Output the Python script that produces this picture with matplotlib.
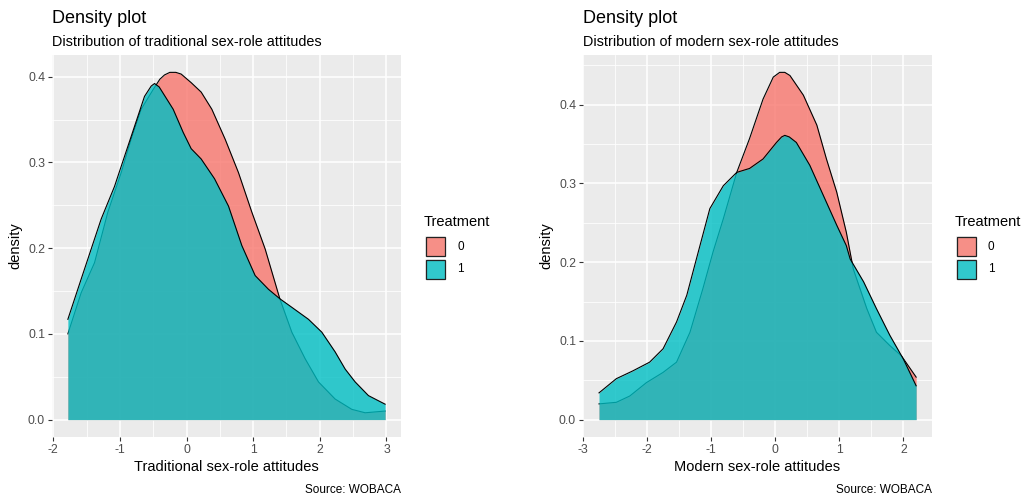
import matplotlib
matplotlib.use("Agg")
import matplotlib.pyplot as plt
from matplotlib.patches import Rectangle
from matplotlib.ticker import MultipleLocator

plt.rcParams["font.family"] = ["Liberation Sans", "DejaVu Sans"]
plt.rcParams["axes.unicode_minus"] = False

W, H = 1023, 497

# Traditional sex-role attitudes, Treatment 0 / 1 (density curves)
trad_x0 = [-1.78, -1.58, -1.38, -1.18, -0.98, -0.83, -0.68, -0.50, -0.40, -0.33, -0.25, -0.16,
           -0.08, 0.07, 0.22, 0.38, 0.58, 0.78, 0.98, 1.18, 1.40, 1.58, 1.78, 1.98, 2.23, 2.48,
           2.68, 2.98]
trad_y0 = [0.100, 0.148, 0.183, 0.242, 0.288, 0.327, 0.362, 0.385, 0.397, 0.402, 0.405, 0.405,
           0.403, 0.393, 0.382, 0.362, 0.327, 0.288, 0.242, 0.199, 0.141, 0.102, 0.071, 0.044,
           0.024, 0.012, 0.008, 0.010]
trad_x1 = [-1.78, -1.58, -1.43, -1.28, -1.08, -0.93, -0.78, -0.63, -0.53, -0.48, -0.41, -0.20,
           -0.05, 0.07, 0.22, 0.42, 0.63, 0.83, 1.03, 1.23, 1.40, 1.58, 1.83, 2.03, 2.23, 2.38,
           2.53, 2.73, 2.98]
trad_y1 = [0.117, 0.164, 0.199, 0.234, 0.272, 0.307, 0.342, 0.377, 0.389, 0.392, 0.388, 0.362,
           0.335, 0.316, 0.304, 0.281, 0.249, 0.203, 0.168, 0.152, 0.141, 0.131, 0.117, 0.102,
           0.079, 0.059, 0.044, 0.028, 0.018]

# Modern sex-role attitudes, Treatment 0 / 1
mod_x0 = [-2.75, -2.48, -2.27, -2.01, -1.75, -1.54, -1.33, -1.13, -0.97, -0.81, -0.60, -0.40,
          -0.19, -0.03, 0.07, 0.15, 0.23, 0.44, 0.65, 0.80, 0.96, 1.11, 1.22, 1.43, 1.58, 1.79,
          1.97, 2.20]
mod_y0 = [0.020, 0.022, 0.030, 0.047, 0.060, 0.073, 0.111, 0.166, 0.213, 0.255, 0.314, 0.357,
          0.407, 0.435, 0.441, 0.441, 0.437, 0.412, 0.374, 0.331, 0.289, 0.238, 0.191, 0.141,
          0.111, 0.094, 0.081, 0.054]
mod_x1 = [-2.75, -2.48, -2.22, -1.96, -1.75, -1.54, -1.38, -1.23, -1.02, -0.81, -0.60, -0.40,
          -0.19, 0.02, 0.10, 0.15, 0.22, 0.33, 0.54, 0.75, 0.96, 1.11, 1.17, 1.38, 1.58, 1.79,
          2.00, 2.20]
mod_y1 = [0.034, 0.052, 0.062, 0.073, 0.090, 0.124, 0.158, 0.204, 0.268, 0.297, 0.314, 0.319,
          0.331, 0.352, 0.359, 0.361, 0.359, 0.352, 0.323, 0.285, 0.247, 0.221, 0.204, 0.175,
          0.141, 0.107, 0.077, 0.043]

groups = ["0", "1"]
colors = ["#F8766D", "#00BFC4"]

panels = [
    dict(x0=trad_x0, y0=trad_y0, x1=trad_x1, y1=trad_y1, left=52,
         subtitle="Distribution of traditional sex-role attitudes",
         xlabel="Traditional sex-role attitudes", xticks=[-2, -1, 0, 1, 2, 3]),
    dict(x0=mod_x0, y0=mod_y0, x1=mod_x1, y1=mod_y1, left=583,
         subtitle="Distribution of modern sex-role attitudes",
         xlabel="Modern sex-role attitudes", xticks=[-3, -2, -1, 0, 1, 2]),
]

fig = plt.figure(figsize=(W / 100, H / 100), dpi=100)


def fx(px):
    return px / W


def fy(py):
    return 1 - py / H


for p in panels:
    L, R, T, B = p["left"], p["left"] + 349, 55, 437
    ax = fig.add_axes([fx(L), fy(B), (R - L) / W, (B - T) / H])
    ax.set_facecolor("#EBEBEB")
    for s in ax.spines.values():
        s.set_visible(False)

    # group 0 first, group 1 on top (its fill dims the outline underneath)
    z = 2
    for xs, ys, c in [(p["x0"], p["y0"], colors[0]), (p["x1"], p["y1"], colors[1])]:
        ax.fill_between(xs, ys, 0, color=c, alpha=0.8, lw=0, zorder=z)
        ax.plot(xs, ys, color="black", lw=0.8, zorder=z + 1)
        z += 2

    xmin = min(p["x0"][0], p["x1"][0]); xmax = max(p["x0"][-1], p["x1"][-1])
    ymax = max(max(p["y0"]), max(p["y1"]))
    ax.set_xlim(xmin - 0.05 * (xmax - xmin), xmax + 0.05 * (xmax - xmin))
    ax.set_ylim(-0.05 * ymax, 1.05 * ymax)

    ax.set_xticks(p["xticks"])
    ax.set_yticks([0.0, 0.1, 0.2, 0.3, 0.4])
    ax.set_yticklabels(["0.0", "0.1", "0.2", "0.3", "0.4"])
    ax.xaxis.set_minor_locator(MultipleLocator(0.5))
    ax.yaxis.set_minor_locator(MultipleLocator(0.05))
    ax.grid(True, which="major", color="white", lw=1.1, zorder=0)
    ax.grid(True, which="minor", color="white", lw=0.55, zorder=0)
    ax.set_axisbelow(True)
    ax.tick_params(which="major", length=3, width=0.8, color="#333333",
                   labelsize=8.8, labelcolor="#4D4D4D", pad=2)
    ax.tick_params(which="minor", length=0)

    ax.set_xlabel(p["xlabel"], fontsize=10.5, color="black", labelpad=3)
    ax.set_ylabel("density", fontsize=10.5, color="black", labelpad=4)

    fig.text(fx(L), fy(23), "Density plot", fontsize=13, va="baseline", ha="left")
    fig.text(fx(L), fy(45.5), p["subtitle"], fontsize=10.4, va="baseline", ha="left")
    fig.text(fx(R), fy(493), "Source: WOBACA", fontsize=8.5, va="baseline", ha="right")

    # legend
    lx = R + 23
    fig.text(fx(lx), fy(226.5), "Treatment", fontsize=10.5, va="baseline", ha="left")
    for i, (g, c) in enumerate(zip(groups, colors)):
        top = 236 + i * 23
        fig.add_artist(Rectangle((fx(lx + 1), fy(top + 21)), 21 / W, 21 / H,
                                 transform=fig.transFigure, facecolor="#F2F2F2",
                                 edgecolor="none"))
        fig.add_artist(Rectangle((fx(lx + 2), fy(top + 20)), 19 / W, 19 / H,
                                 transform=fig.transFigure, facecolor=c, alpha=0.8,
                                 edgecolor="none"))
        fig.add_artist(Rectangle((fx(lx + 2), fy(top + 20)), 19 / W, 19 / H,
                                 transform=fig.transFigure, facecolor="none",
                                 edgecolor="#222222", lw=0.9))
        fig.text(fx(lx + 33), fy(top + 10.5), g, fontsize=8.5, va="center", ha="left")

fig.savefig("out.png", dpi=100)
